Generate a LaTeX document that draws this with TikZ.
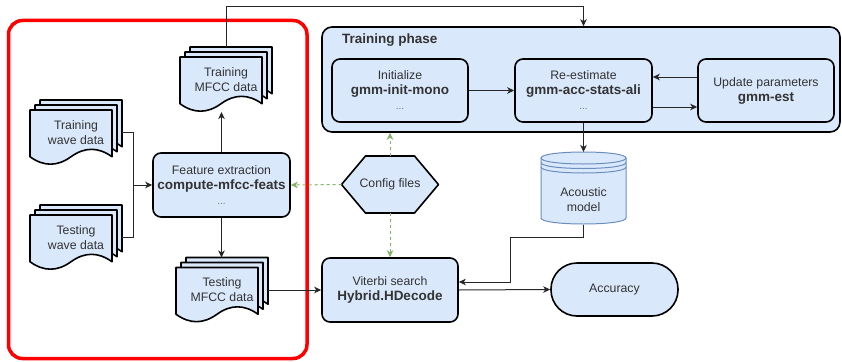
\documentclass[tikz,border=0pt]{standalone}
\usepackage{fontspec}
\setmainfont{Liberation Sans}
\usetikzlibrary{arrows.meta,calc,backgrounds}
\definecolor{boxfill}{HTML}{DAE8FC}
\definecolor{cylline}{HTML}{6C8EBF}
\definecolor{cfggreen}{HTML}{82B366}
\definecolor{txtgray}{HTML}{333333}
\newcommand\regfont{\fontsize{12.3}{15}\selectfont}
\newcommand\bftext[1]{{\fontsize{13.5}{15}\selectfont\bfseries #1}}
\newcommand\smalldots{{\fontsize{10}{15}\selectfont\color{black!55}...}}
\newcommand\docpath{(0,0) -- (82,0) -- (82,46.75) .. controls (68.3,36.85) and (54.7,36.85) .. (41,46.75) .. controls (27.3,56.65) and (13.7,56.65) .. (0,46.75) -- cycle}
\newcommand\docstack[2]{%
  \draw[docline, shift={(#1+10,#2)}] \docpath;
  \draw[docline, shift={(#1+5,#2+5)}] \docpath;
  \draw[docline, shift={(#1,#2+10)}] \docpath;}
\tikzset{
  docline/.style={draw=black, line width=1.6pt, fill=boxfill, line join=round},
  procbox/.style={draw=black, line width=1.6pt, fill=boxfill, rounded corners=8pt,
    text=txtgray, align=center, font=\regfont, inner sep=2pt},
  stacktext/.style={minimum width=92pt, minimum height=65pt, outer sep=0pt, inner sep=0pt,
    text=txtgray, align=center, font=\regfont},
  conn/.style={draw=black!85, line width=1pt, -{Stealth[length=7pt,width=6.5pt,inset=2pt]}},
  plainconn/.style={draw=black!85, line width=1pt},
  gconn/.style={draw=cfggreen, line width=1pt, dash pattern=on 3pt off 3pt,
    -{Stealth[length=7pt,width=6.5pt,inset=2pt]}},
}
\begin{document}
\begin{tikzpicture}[x=1pt,y=-1pt]
\useasboundingbox (0,0) rectangle (842,361);

% red grouping frame
\draw[red, line width=3.5pt, rounded corners=14pt] (8.5,20.5) rectangle (307,358.5);

% document stacks
\docstack{30}{100}
\node[stacktext] (trw) at (76,132.5) {Training\\wave data};
\docstack{30}{205}
\node[stacktext] (tsw) at (76,237.5) {Testing\\wave data};
\docstack{180}{47}
\node[stacktext] (trm) at (226,79.5) {Training\\MFCC data};
\docstack{176}{257.5}
\node[stacktext] (tsm) at (222,290) {Testing\\MFCC data};

% feature extraction
\node[procbox, minimum width=137pt, minimum height=64pt] (fe) at (221.5,185)
  {Feature extraction\\\bftext{compute-mfcc-feats}\\\smalldots};

% training phase
\node[procbox, minimum width=518pt, minimum height=105pt, rounded corners=10pt] (tp) at (581,79.5) {};
\node[anchor=west, inner sep=0pt, text=txtgray] (tpl) at (342,40) {\bftext{Training phase}};
\node[procbox, minimum width=136pt, minimum height=63pt] (ini) at (400,90.5)
  {Initialize\\\bftext{gmm-init-mono}\\\smalldots};
\node[procbox, minimum width=137pt, minimum height=63pt] (rest) at (583.5,90.5)
  {Re-estimate\\\bftext{gmm-acc-stats-ali}\\\smalldots};
\node[procbox, minimum width=136pt, minimum height=63pt] (upd) at (766,90.5)
  {Update parameters\\\bftext{gmm-est}};

% config files hexagon
\node[minimum width=97pt, minimum height=57pt, outer sep=0pt, inner sep=0pt,
  text=txtgray, font=\regfont] (cfg) at (390,184.5) {Config files};
\begin{scope}[on background layer]
\draw[docline] (cfg.west) -- ([xshift=24pt]cfg.north west) -- ([xshift=-24pt]cfg.north east)
  -- (cfg.east) -- ([xshift=-24pt]cfg.south east) -- ([xshift=24pt]cfg.south west) -- cycle;
\end{scope}

% acoustic model cylinder
\filldraw[fill=boxfill, draw=cylline, line width=1pt]
  (541,158) .. controls (541,150) and (626,150) .. (626,158) -- (626,218)
  .. controls (626,226) and (541,226) .. (541,218) -- cycle;
\draw[cylline, line width=1pt] (541,158) .. controls (541,166) and (626,166) .. (626,158);
\draw[cylline, line width=1pt] (541,162.5) .. controls (541,170.5) and (626,170.5) .. (626,162.5);
\draw[cylline, line width=1pt] (541,167) .. controls (541,175) and (626,175) .. (626,167);
\node[minimum width=85pt, minimum height=73pt, outer sep=0pt, inner sep=0pt] (am) at (583.5,188.5) {};
\node[text=txtgray, font=\regfont, align=center, inner sep=0pt] (amt) at ([yshift=-11.5pt]am.center) {Acoustic\\model};

% viterbi and accuracy
\node[procbox, minimum width=136pt, minimum height=64pt] (vit) at (390,290)
  {Viterbi search\\\bftext{Hybrid.HDecode}};
\node[procbox, minimum width=127pt, minimum height=53pt, rounded corners=26pt] (acc) at (614.5,289.5)
  {Accuracy};

% connectors
\coordinate (jn) at ($(fe.west)+(-19,0)$);
\draw[plainconn] (trw.east) -| (jn);
\draw[plainconn] (tsw.east) -| (jn);
\draw[conn] (jn) -- (fe.west);
\draw[conn] (fe.north) -- (fe.north |- trm.south);
\draw[conn] (fe.south) -- (fe.south |- tsm.north);
\coordinate (tpin) at (rest.north |- tp.north);
\draw[conn] (trm.north) |- ([yshift=20pt]tpin) -- (tpin);
\draw[conn] (ini.east) -- (rest.west);
\draw[conn] ([yshift=13.5pt]upd.west) -- ([yshift=13.5pt]rest.east);
\draw[conn] ([yshift=-16.5pt]rest.east) -- ([yshift=-16.5pt]upd.west);
\draw[conn] (rest.south) -- (am.north);
\coordinate (bend) at (510,237);
\draw[conn] (am.south) |- (bend) |- ([yshift=8pt]vit.east);
\draw[conn] (tsm.east) -- (vit.west);
\draw[conn] (vit.east) -- (acc.west);
\draw[gconn] (cfg.north) -- (cfg.north |- tp.south);
\draw[gconn] (cfg.west) -- (fe.east);
\draw[gconn] (cfg.south) -- (cfg.south |- vit.north);
\end{tikzpicture}
\end{document}
